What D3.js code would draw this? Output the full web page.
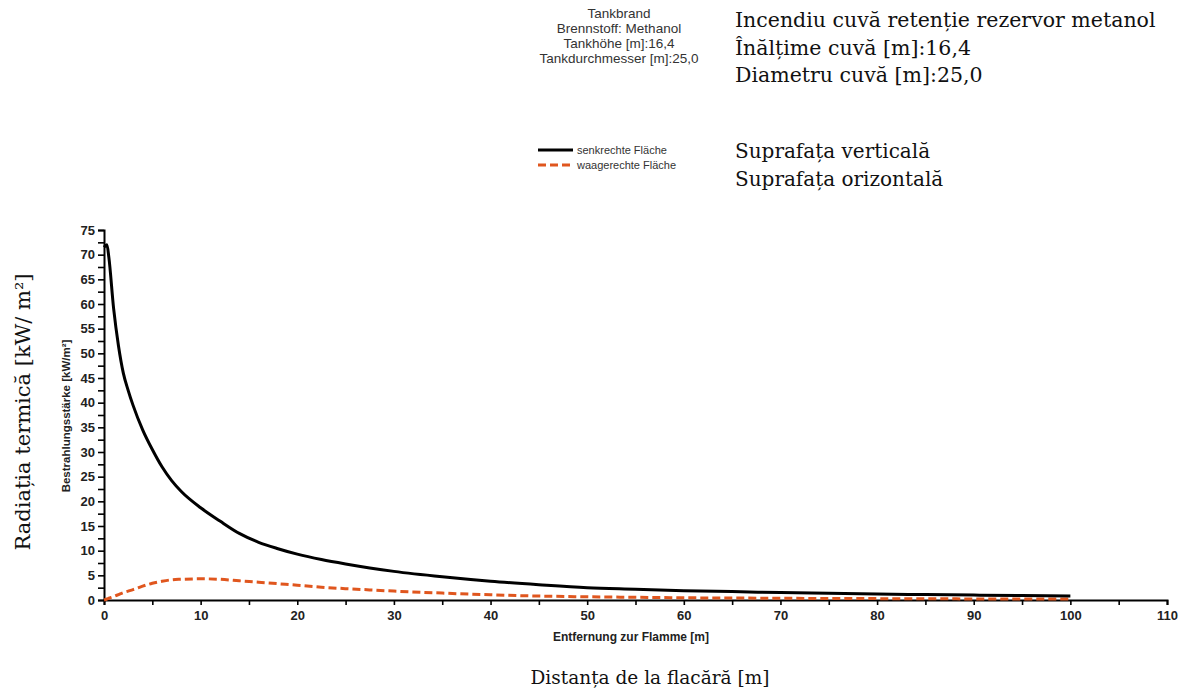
<!DOCTYPE html>
<html lang="ro">
<head>
<meta charset="utf-8">
<title>Tankbrand Methanol</title>
<script src="https://d3js.org/d3.v7.min.js"></script>
<style>
  body { margin: 0; background: #fff; }
  svg { display: block; }
</style>
</head>
<body>
<div class="chart"></div>
<script>
// distance from flame [m]
const distance = [0, 0.3, 0.5, 1, 1.5, 2, 2.5, 3, 4, 5, 6, 7, 8, 10, 12, 14, 16, 18, 20, 22.5, 25, 27.5, 30, 35, 40, 45, 50, 55, 60, 65, 70, 75, 80, 85, 90, 95, 100];
// radiation on vertical surface [kW/m2]
const vertical = [71.5, 72, 69.5, 59, 51.5, 46, 42.5, 39.5, 34.5, 30.5, 27, 24.2, 22, 18.7, 16, 13.5, 11.7, 10.4, 9.3, 8.2, 7.3, 6.5, 5.8, 4.7, 3.8, 3.1, 2.5, 2.2, 1.9, 1.7, 1.5, 1.35, 1.2, 1.1, 1.0, 0.9, 0.8];
// radiation on horizontal surface [kW/m2]
const horizontal = [0, 0.2, 0.35, 0.7, 1.1, 1.5, 1.8, 2.1, 2.8, 3.4, 3.8, 4.1, 4.2, 4.3, 4.2, 3.9, 3.6, 3.3, 3.0, 2.6, 2.3, 2.05, 1.8, 1.4, 1.05, 0.8, 0.65, 0.55, 0.45, 0.4, 0.35, 0.3, 0.28, 0.25, 0.22, 0.2, 0.18];

const xTicks = d3.range(0, 111, 5);
const yTicks = d3.range(0, 75.1, 2.5);

const infoDe = ["Tankbrand", "Brennstoff: Methanol", "Tankhöhe [m]:16,4", "Tankdurchmesser [m]:25,0"];
const infoRo = ["Incendiu cuvă retenție rezervor metanol", "Înălțime cuvă [m]:16,4", "Diametru cuvă [m]:25,0"];
const legendDe = ["senkrechte Fläche", "waagerechte Fläche"];
const legendRo = ["Suprafața verticală", "Suprafața orizontală"];

const W = 1179, H = 690;
const orange = "#e0561e";
const serif = "DejaVu Serif, serif";
const sans = "Liberation Sans, Arial, sans-serif";

const svg = d3.select(".chart").append("svg")
  .attr("width", W).attr("height", H);

const x = d3.scaleLinear().domain([0, 110]).range([104, 1167]);
const y = d3.scaleLinear().domain([0, 75]).range([600, 230]);

// axes
const xAxis = svg.append("g")
  .attr("transform", `translate(0,${y(0)})`)
  .call(d3.axisBottom(x).tickValues(xTicks).tickSize(5).tickFormat(d => d % 10 === 0 ? d : ""));
const yAxis = svg.append("g")
  .attr("transform", `translate(${x(0)},0)`)
  .call(d3.axisLeft(y).tickValues(yTicks).tickSize(6).tickFormat(d => d % 5 === 0 ? d : ""));

[xAxis, yAxis].forEach(g => {
  g.select(".domain").attr("stroke", "#000").attr("stroke-width", 2);
  g.selectAll(".tick line").attr("stroke", "#000").attr("stroke-width", 1.6);
  g.selectAll("text")
    .style("font-family", sans)
    .style("font-weight", "bold")
    .style("font-size", "13px")
    .attr("fill", "#222");
});
xAxis.selectAll("text").attr("dy", "0.95em").attr("y", 8);
yAxis.selectAll("text").attr("x", -9);

// curves
const pts = (ys) => distance.map((d, i) => [d, ys[i]]);
const line = d3.line().x(d => x(d[0])).y(d => y(d[1])).curve(d3.curveMonotoneX);

svg.append("path")
  .datum(pts(horizontal))
  .attr("d", line)
  .attr("fill", "none")
  .attr("stroke", orange)
  .attr("stroke-width", 3)
  .attr("stroke-dasharray", "8,4");

svg.append("path")
  .datum(pts(vertical))
  .attr("d", line)
  .attr("fill", "none")
  .attr("stroke", "#000")
  .attr("stroke-width", 3);

// axis titles
svg.append("text")
  .attr("x", 631).attr("y", 641)
  .attr("text-anchor", "middle")
  .style("font-family", sans)
  .style("font-weight", "bold").style("font-size", "12px")
  .attr("fill", "#222")
  .text("Entfernung zur Flamme [m]");

svg.append("text")
  .attr("transform", "translate(70,416) rotate(-90)")
  .attr("text-anchor", "middle")
  .style("font-family", sans)
  .style("font-weight", "bold").style("font-size", "11.5px")
  .attr("fill", "#222")
  .text("Bestrahlungsstärke [kW/m²]");

svg.append("text")
  .attr("x", 650).attr("y", 684)
  .attr("text-anchor", "middle")
  .style("font-family", serif)
  .style("font-size", "18.5px")
  .attr("fill", "#111")
  .text("Distanța de la flacără [m]");

svg.append("text")
  .attr("transform", "translate(30,412) rotate(-90)")
  .attr("text-anchor", "middle")
  .style("font-family", serif)
  .style("font-size", "21px")
  .attr("fill", "#111")
  .text("Radiația termică [kW/ m²]");

// info block (German)
svg.append("g").selectAll("text")
  .data(infoDe).join("text")
  .attr("x", 619).attr("y", (d, i) => 18 + i * 15)
  .attr("text-anchor", "middle")
  .style("font-family", sans)
  .style("font-size", "13.5px")
  .attr("fill", "#333")
  .text(d => d);

// info block (Romanian)
svg.append("g").selectAll("text")
  .data(infoRo).join("text")
  .attr("x", 735).attr("y", (d, i) => 27 + i * 27.5)
  .style("font-family", serif)
  .style("font-size", "20.5px")
  .attr("fill", "#111")
  .text(d => d);

// legend
const legend = svg.append("g");
legend.selectAll("line")
  .data(legendDe).join("line")
  .attr("x1", 538).attr("x2", 573)
  .attr("y1", (d, i) => 150 + i * 15).attr("y2", (d, i) => 150 + i * 15)
  .attr("stroke", (d, i) => i === 0 ? "#000" : orange)
  .attr("stroke-width", 3)
  .attr("stroke-dasharray", (d, i) => i === 0 ? null : "8,4");
legend.selectAll("text")
  .data(legendDe).join("text")
  .attr("x", 577).attr("y", (d, i) => 154 + i * 15)
  .style("font-family", sans)
  .style("font-size", "11px")
  .attr("fill", "#333")
  .text(d => d);

svg.append("g").selectAll("text")
  .data(legendRo).join("text")
  .attr("x", 735).attr("y", (d, i) => 158 + i * 28)
  .style("font-family", serif)
  .style("font-size", "20px")
  .attr("fill", "#111")
  .text(d => d);
</script>
</body>
</html>
